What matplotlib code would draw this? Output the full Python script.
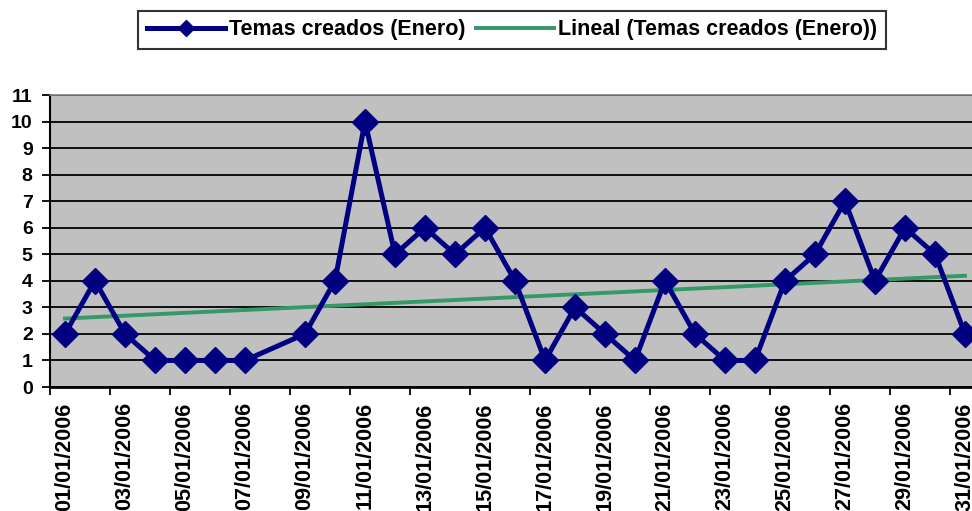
import datetime as dt
import numpy as np
import matplotlib.pyplot as plt
import matplotlib.dates as mdates
from matplotlib.ticker import FixedLocator, MultipleLocator

plt.rcParams['font.family'] = ['Liberation Sans', 'DejaVu Sans']
plt.rcParams['font.weight'] = 'bold'

# dias de enero con datos (el 8 no tiene valor)
days = [1, 2, 3, 4, 5, 6, 7, 9, 10, 11, 12, 13, 14, 15, 16, 17, 18, 19, 20,
        21, 22, 23, 24, 25, 26, 27, 28, 29, 30, 31]
temas = [2, 4, 2, 1, 1, 1, 1, 2, 4, 10, 5, 6, 5, 6, 4, 1, 3, 2, 1,
         4, 2, 1, 1, 4, 5, 7, 4, 6, 5, 2]
label_days = list(range(1, 32, 2))

dates = [dt.datetime(2006, 1, d) for d in days]
xnum = mdates.date2num(dates)

# linea de tendencia lineal (como Excel)
coef = np.polyfit(xnum, temas, 1)
trend_x = np.array([xnum[0], xnum[-1]])
trend_y = np.polyval(coef, trend_x)

fig = plt.figure(figsize=(9.72, 5.11), dpi=100)
ax = fig.add_axes([50 / 972, 124 / 511, 930 / 972, 292 / 511])
ax.set_facecolor('#C0C0C0')

line1, = ax.plot(xnum, temas, color='#000080', lw=3.6, marker='D', ms=13,
                 mec='#000080', mfc='#000080', zorder=4,
                 label='Temas creados (Enero)')
line2, = ax.plot(trend_x, trend_y, color='#339966', lw=2.8, zorder=3,
                 label='Lineal (Temas creados (Enero))')

start = mdates.date2num(dt.datetime(2006, 1, 1))
ax.set_xlim(start - 0.5, start + 30.5)
ax.set_ylim(0, 11)

# etiquetas centradas en el dia, marcas en los limites
ax.xaxis.set_major_locator(FixedLocator(
    mdates.date2num([dt.datetime(2006, 1, d) for d in label_days])))
ax.xaxis.set_major_formatter(mdates.DateFormatter('%d/%m/%Y'))
ax.xaxis.set_minor_locator(FixedLocator(
    mdates.date2num([dt.datetime(2006, 1, d) for d in label_days]) - 0.5))
ax.tick_params(axis='x', which='major', length=0, pad=11, labelsize=15.6,
               labelrotation=90)
ax.tick_params(axis='x', which='minor', length=5.5, width=1.3, color='black')
for lab in ax.get_xticklabels():
    lab.set_fontweight('bold')
    lab.set_va('top')

ax.yaxis.set_major_locator(MultipleLocator(1))
ax.tick_params(axis='y', length=5.5, width=1.3, pad=7, labelsize=14)
for lab in ax.get_yticklabels():
    lab.set_fontweight('bold')

ax.grid(axis='y', color='black', lw=1.3, zorder=1)
ax.set_axisbelow(True)
ax.spines['left'].set_linewidth(1.5)
ax.spines['bottom'].set_linewidth(2)
ax.spines['top'].set_color('#808080')
ax.spines['top'].set_linewidth(1.2)
ax.spines['right'].set_visible(False)

leg = fig.legend(handles=[line1, line2], loc='center',
                 bbox_to_anchor=(512 / 972, 1 - 30 / 511), ncol=2,
                 frameon=True, fancybox=False, edgecolor='black',
                 prop={'weight': 'bold', 'size': 15.5}, handlelength=3.6,
                 columnspacing=0.5, handletextpad=0.2, borderpad=0.4,
                 markerscale=0.6)
leg.get_frame().set_linewidth(1.5)

fig.savefig('out.png', dpi=100)
